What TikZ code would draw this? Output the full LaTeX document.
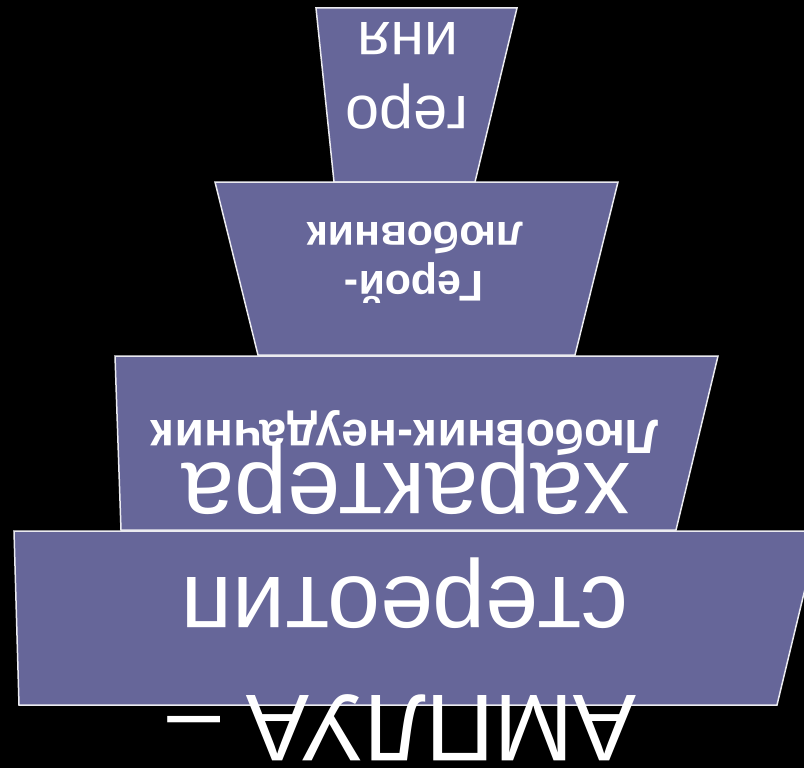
\documentclass[tikz,border=0pt]{standalone}
\usepackage{fontspec}
\setmainfont{Liberation Sans}
\definecolor{lvl}{RGB}{102,102,153}
\definecolor{edge}{RGB}{235,235,240}
\tikzset{
  level/.style={fill=lvl, draw=edge, line width=1.5pt, line join=miter},
  txt/.style={text=white, inner sep=0pt, anchor=base, rotate=180},
  big/.style={txt, font=\fontsize{95}{110}\selectfont},
  mid/.style={txt, font=\fontsize{61}{70}\selectfont},
  bold/.style={txt, font=\bfseries\fontsize{48}{56}\selectfont},
  boldsm/.style={txt, font=\bfseries\fontsize{43}{50}\selectfont}
}
\begin{document}
\begin{tikzpicture}[x=1pt,y=-1pt]
\fill[black] (0,0) rectangle (804,768);
\useasboundingbox (0,0) rectangle (804,768);
% levels (top to bottom in the picture)
\draw[level] (316,8) -- (517,8) -- (475,182) -- (334,182) -- cycle;
\draw[level] (215,182) -- (618,182) -- (575,355) -- (258,355) -- cycle;
\draw[level] (115,356) -- (718,356) -- (676,530) -- (121,530) -- cycle;
\draw[level] (14,531) -- (819,531) -- (777,705) -- (19,705) -- cycle;
% texts
\node[mid] (t1a) at (407,97) {геро};
\node[mid] (t1b) at (408,23) {иня};
\node[boldsm] (t2a) at (414,271) {Герой-};
\node[boldsm] (t2b) at (415,222) {любовник};
\node[bold] (t3) at (405,420) {Любовник-неудачник};
\node[big] (t4a) at (406,463) {характера};
\node[big] (t4b) at (405,577) {стереотип};
\node[big] (t4c) at (402,695) {АМПЛУА –};
\end{tikzpicture}
\end{document}
